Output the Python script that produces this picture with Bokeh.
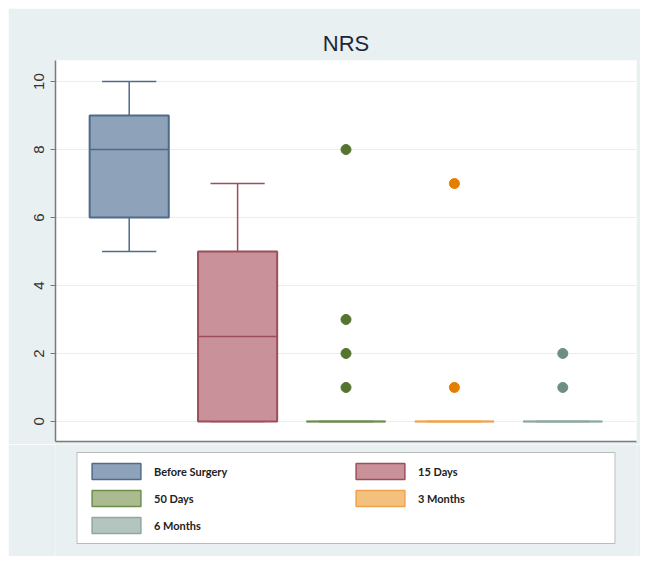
from bokeh.plotting import figure
from bokeh.layouts import column
from bokeh.models import Range1d, Legend, LegendItem, ColumnDataSource, FixedTicker
from bokeh.embed import file_html
from bokeh.resources import INLINE

# ---- data ----
groups = ["Before Surgery", "15 Days", "50 Days", "3 Months", "6 Months"]
q1 = [6, 0, 0, 0, 0]
median = [8, 2.5, 0, 0, 0]
q3 = [9, 5, 0, 0, 0]
lower_whisker = [5, 0, 0, 0, 0]
upper_whisker = [10, 7, 0, 0, 0]
outlier_group = ["50 Days", "50 Days", "50 Days", "50 Days", "3 Months", "3 Months", "6 Months", "6 Months"]
outlier_value = [1, 2, 3, 8, 1, 7, 1, 2]
y_ticks = [0, 2, 4, 6, 8, 10]

# ---- styles ----
fill_colors = ["#8ea2ba", "#c9919a", "#a9bb8f", "#f3c07e", "#b4c5c0"]
line_colors = ["#4f6b8a", "#9c4f5a", "#6f8c4f", "#eea44c", "#8ea7a0"]
marker_colors = {"50 Days": "#55752f", "3 Months": "#e37e00", "6 Months": "#6e8e84"}
bg = "#e9f0f2"
box_w = 0.73
cap_w = 0.5

xs = [i + 1 for i in range(len(groups))]
src = ColumnDataSource(dict(
    x=xs, g=groups, q1=q1, med=median, q3=q3, lo=lower_whisker, hi=upper_whisker,
    fill=fill_colors, line=line_colors,
    x0=[x - box_w / 2 for x in xs], x1=[x + box_w / 2 for x in xs],
    c0=[x - cap_w / 2 for x in xs], c1=[x + cap_w / 2 for x in xs],
))
out_src = ColumnDataSource(dict(
    x=[groups.index(g) + 1 for g in outlier_group],
    y=outlier_value,
    c=[marker_colors[g] for g in outlier_group],
))

# ---- main plot ----
p = figure(
    frame_width=581, frame_height=381,
    min_border_left=47, min_border_right=4, min_border_top=52, min_border_bottom=3,
    x_range=Range1d(0.32, 5.68), y_range=Range1d(-0.59, 10.62),
    output_backend="svg", toolbar_location=None,
    title="NRS",
)
p.border_fill_color = bg
p.background_fill_color = "white"
p.outline_line_color = None

p.title.align = "center"
p.title.text_font = "Liberation Sans"
p.title.text_font_size = "22px"
p.title.text_font_style = "normal"
p.title.text_color = "#1c2838"

# whiskers and caps
p.segment(x0="x", y0="q3", x1="x", y1="hi", source=src, line_color="line", line_width=1.5)
p.segment(x0="x", y0="q1", x1="x", y1="lo", source=src, line_color="line", line_width=1.5)
p.segment(x0="c0", y0="hi", x1="c1", y1="hi", source=src, line_color="line", line_width=1.5)
p.segment(x0="c0", y0="lo", x1="c1", y1="lo", source=src, line_color="line", line_width=1.5)
# boxes
p.vbar(x="x", width=box_w, top="q3", bottom="q1", source=src,
       fill_color="fill", line_color="line", line_width=2)
# medians
p.segment(x0="x0", y0="med", x1="x1", y1="med", source=src, line_color="line", line_width=1.5)
# outliers
p.scatter(x="x", y="y", source=out_src, size=10, fill_color="c", line_color="c")

# axes
p.yaxis.ticker = FixedTicker(ticks=y_ticks)
p.yaxis.major_label_orientation = "vertical"
p.yaxis.major_label_text_font = "Liberation Sans"
p.yaxis.major_label_text_font_size = "15px"
p.yaxis.major_label_text_color = "#333333"
p.yaxis.major_tick_out = 5
p.yaxis.major_tick_in = 0
p.yaxis.minor_tick_line_color = None
p.yaxis.major_label_standoff = 6
p.yaxis.axis_line_color = "#7a7a7a"
p.yaxis.axis_line_width = 1.5
p.yaxis.major_tick_line_color = "#7a7a7a"

p.xaxis.ticker = FixedTicker(ticks=[])
p.xaxis.major_tick_line_color = None
p.xaxis.minor_tick_line_color = None
p.xaxis.major_tick_out = 0
p.xaxis.major_tick_in = 0
p.xaxis.major_label_standoff = 0
p.xaxis.axis_line_color = "#7a7a7a"
p.xaxis.axis_line_width = 1.5

p.xgrid.grid_line_color = None
p.ygrid.grid_line_color = "#ececec"

# ---- legend strip (its boxes sit hidden behind the opaque legend; used only as legend glyphs) ----
lg = figure(
    width=632, height=112,
    min_border_left=47, min_border_right=4, min_border_top=0, min_border_bottom=0,
    x_range=Range1d(0, 6), y_range=Range1d(-2, 12),
    x_axis_location=None, y_axis_location=None,
    output_backend="svg", toolbar_location=None,
)
lg.border_fill_color = bg
lg.background_fill_color = bg
lg.outline_line_color = None
lg.xgrid.grid_line_color = None
lg.ygrid.grid_line_color = None
legend_boxes = lg.vbar(x="x", width=box_w, top="q3", bottom="q1", source=src,
                       fill_color="fill", line_color="line", line_width=1.5)

items = [LegendItem(label=g, renderers=[legend_boxes], index=i) for i, g in enumerate(groups)]
legend = Legend(
    items=items, location="top_center", orientation="horizontal", ncols=2,
    glyph_width=61, glyph_height=20, label_width=188, label_height=20,
    label_standoff=8, spacing=7, padding=8, margin=8,
    border_line_color="#777777", border_line_width=1.5,
    background_fill_color="white", background_fill_alpha=1.0,
    label_text_font="Lato", label_text_font_size="11px", label_text_font_style="bold",
    label_text_color="#222222",
)
lg.add_layout(legend, "center")

layout = column(p, lg, spacing=0)
layout.margin = (8, 0, 0, 8)

open("out.html", "w").write(file_html(layout, INLINE))
